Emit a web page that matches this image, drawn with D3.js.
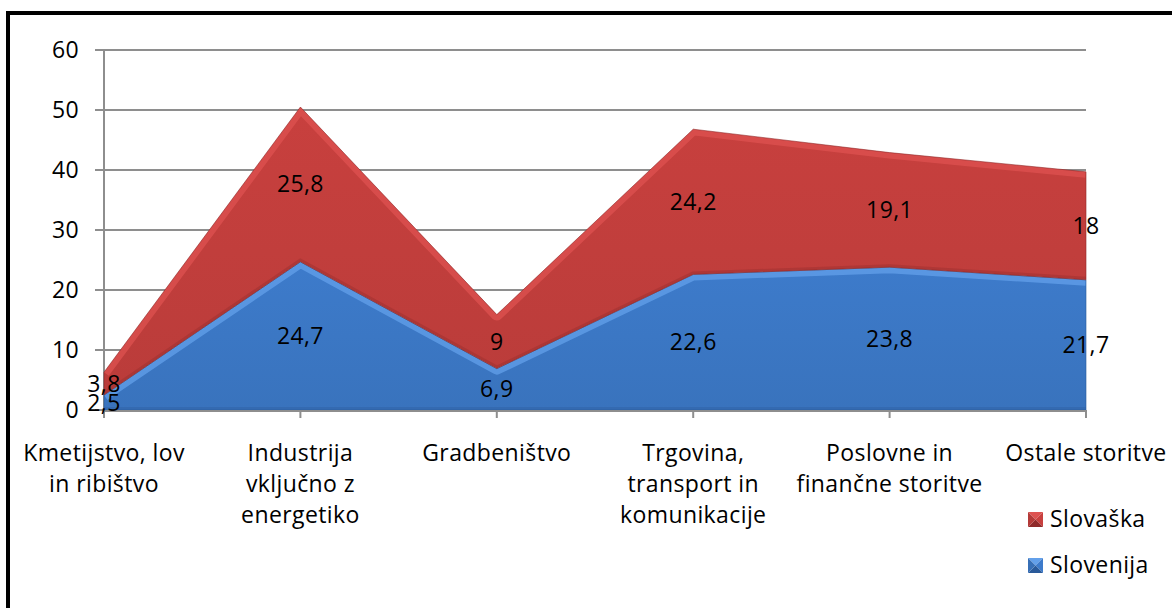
<!DOCTYPE html>
<html lang="sl">
<head>
  <meta charset="UTF-8">
  <title>Slovenija / Slovaška</title>
  <style>
    body { margin: 0; background: #fff; }
    svg text { font-family: "Open Sans", sans-serif; fill: #000; letter-spacing: 0.4px; }
  </style>
</head>
<body>
  <svg id="chart" width="1172" height="608"></svg>

  <script src="https://cdnjs.cloudflare.com/ajax/libs/d3/7.8.5/d3.min.js"></script>
  <script>
    'use strict';

    // data
    const categories = [
      ['Kmetijstvo, lov', 'in ribištvo'],
      ['Industrija', 'vključno z', 'energetiko'],
      ['Gradbeništvo'],
      ['Trgovina,', 'transport in', 'komunikacije'],
      ['Poslovne in', 'finančne storitve'],
      ['Ostale storitve']
    ];
    const seriesNames = ['Slovenija', 'Slovaška'];
    const slovenija = [2.5, 24.7, 6.9, 22.6, 23.8, 21.7];
    const slovaska = [3.8, 25.8, 9, 24.2, 19.1, 18];
    const yTicks = [0, 10, 20, 30, 40, 50, 60];

    const svg = d3.select('#chart');
    const fontSize = 23;

    // frame
    svg.append('path')
      .attr('d', 'M8,700 V13 H1200')
      .attr('fill', 'none')
      .attr('stroke', '#000')
      .attr('stroke-width', 4);

    const x = d3.scalePoint()
      .domain(d3.range(categories.length))
      .range([104, 1086]);
    const y = d3.scaleLinear()
      .domain([0, 60])
      .range([410, 50]);

    // gridlines + y labels
    const grid = svg.append('g');
    grid.selectAll('line')
      .data(yTicks)
      .join('line')
      .attr('x1', 95).attr('x2', 1086)
      .attr('y1', d => y(d)).attr('y2', d => y(d))
      .attr('stroke', '#8e8e8e')
      .attr('stroke-width', 2);
    grid.selectAll('text')
      .data(yTicks)
      .join('text')
      .attr('x', 79)
      .attr('y', d => y(d))
      .attr('dy', '0.35em')
      .attr('text-anchor', 'end')
      .attr('font-size', fontSize)
      .text(d => d);

    // y axis line
    svg.append('line')
      .attr('x1', 104).attr('x2', 104)
      .attr('y1', y(60)).attr('y2', y(0))
      .attr('stroke', '#8e8e8e')
      .attr('stroke-width', 2);

    // stacked areas
    const rows = slovenija.map((v, i) => ({ i: i, Slovenija: v, 'Slovaška': slovaska[i] }));
    const stack = d3.stack().keys(seriesNames)(rows);
    const values = { Slovenija: slovenija, 'Slovaška': slovaska };

    const colors = {
      Slovenija: { fill: '#3d7bcb', light: '#63a0ea', dark: '#2a5a9a' },
      'Slovaška': { fill: '#c8403e', light: '#dd5250', dark: '#8f2a2a' }
    };

    const defs = svg.append('defs');
    const area = d3.area()
      .x(d => x(d.data.i))
      .y0(d => y(d[0]))
      .y1(d => y(d[1]));
    const topLine = d3.line()
      .x(d => x(d.data.i))
      .y(d => y(d[1]));
    const baseLine = d3.line()
      .x(d => x(d.data.i))
      .y(d => y(d[0]));

    stack.forEach((s, k) => {
      const c = colors[s.key];
      const id = 'clip' + k;
      defs.append('clipPath').attr('id', id)
        .append('path').attr('d', area(s));

      const grad = defs.append('linearGradient')
        .attr('id', 'grad' + k)
        .attr('x1', 0).attr('x2', 0).attr('y1', 0).attr('y2', 1);
      grad.append('stop').attr('offset', '0%').attr('stop-color', c.fill);
      grad.append('stop').attr('offset', '100%').attr('stop-color', d3.color(c.fill).darker(0.2));

      const g = svg.append('g').attr('clip-path', `url(#${id})`);
      g.append('path')
        .attr('d', area(s))
        .attr('fill', `url(#grad${k})`);
      // bevel on the top edge
      g.append('path')
        .attr('d', topLine(s))
        .attr('fill', 'none')
        .attr('stroke', c.light)
        .attr('stroke-width', 12)
        .attr('stroke-linejoin', 'round')
        .attr('opacity', 0.75);
      // darker shade at the base
      g.append('path')
        .attr('d', baseLine(s))
        .attr('fill', 'none')
        .attr('stroke', c.dark)
        .attr('stroke-width', 6)
        .attr('opacity', 0.35);
      svg.append('path')
        .attr('d', area(s))
        .attr('fill', 'none')
        .attr('stroke', c.dark)
        .attr('stroke-width', 1)
        .attr('opacity', 0.6);
    });

    // x axis
    svg.append('line')
      .attr('x1', 104).attr('x2', 1086)
      .attr('y1', y(0) + 1).attr('y2', y(0) + 1)
      .attr('stroke', '#8e8e8e')
      .attr('stroke-width', 2);
    svg.append('g').selectAll('line')
      .data(x.domain())
      .join('line')
      .attr('x1', d => x(d)).attr('x2', d => x(d))
      .attr('y1', y(0)).attr('y2', y(0) + 8)
      .attr('stroke', '#8e8e8e')
      .attr('stroke-width', 2);

    // data labels
    const fmt = v => String(v).replace('.', ',');
    stack.forEach(s => {
      svg.append('g').selectAll('text')
        .data(s)
        .join('text')
        .attr('x', d => x(d.data.i))
        .attr('y', d => y((d[0] + d[1]) / 2))
        .attr('dy', '0.35em')
        .attr('text-anchor', 'middle')
        .attr('font-size', fontSize)
        .text((d, i) => fmt(values[s.key][i]));
    });

    // category labels
    categories.forEach((lines, i) => {
      const t = svg.append('text')
        .attr('x', x(i))
        .attr('y', 461)
        .attr('text-anchor', 'middle')
        .attr('font-size', fontSize);
      lines.forEach((l, j) => {
        t.append('tspan')
          .attr('x', x(i))
          .attr('y', 461 + j * 31)
          .text(l);
      });
    });

    // legend with pyramid-style markers
    const legend = svg.append('g');
    ['Slovaška', 'Slovenija'].forEach((name, i) => {
      const c = colors[name];
      const base = 527 + i * 46;
      const x0 = 1028, s = 15, y0 = base - s, m = s / 2;
      const tri = [
        [[0, 0], [s, 0], [m, m], c.light],
        [[s, 0], [s, s], [m, m], c.fill],
        [[0, s], [s, s], [m, m], c.dark],
        [[0, 0], [0, s], [m, m], d3.color(c.fill).darker(0.3)]
      ];
      tri.forEach(t => {
        legend.append('path')
          .attr('d', d3.line()(t.slice(0, 3).map(p => [x0 + p[0], y0 + p[1]])) + 'Z')
          .attr('fill', t[3]);
      });
      legend.append('text')
        .attr('x', 1050).attr('y', base)
        .attr('font-size', fontSize)
        .text(name);
    });
  </script>
</body>
</html>
